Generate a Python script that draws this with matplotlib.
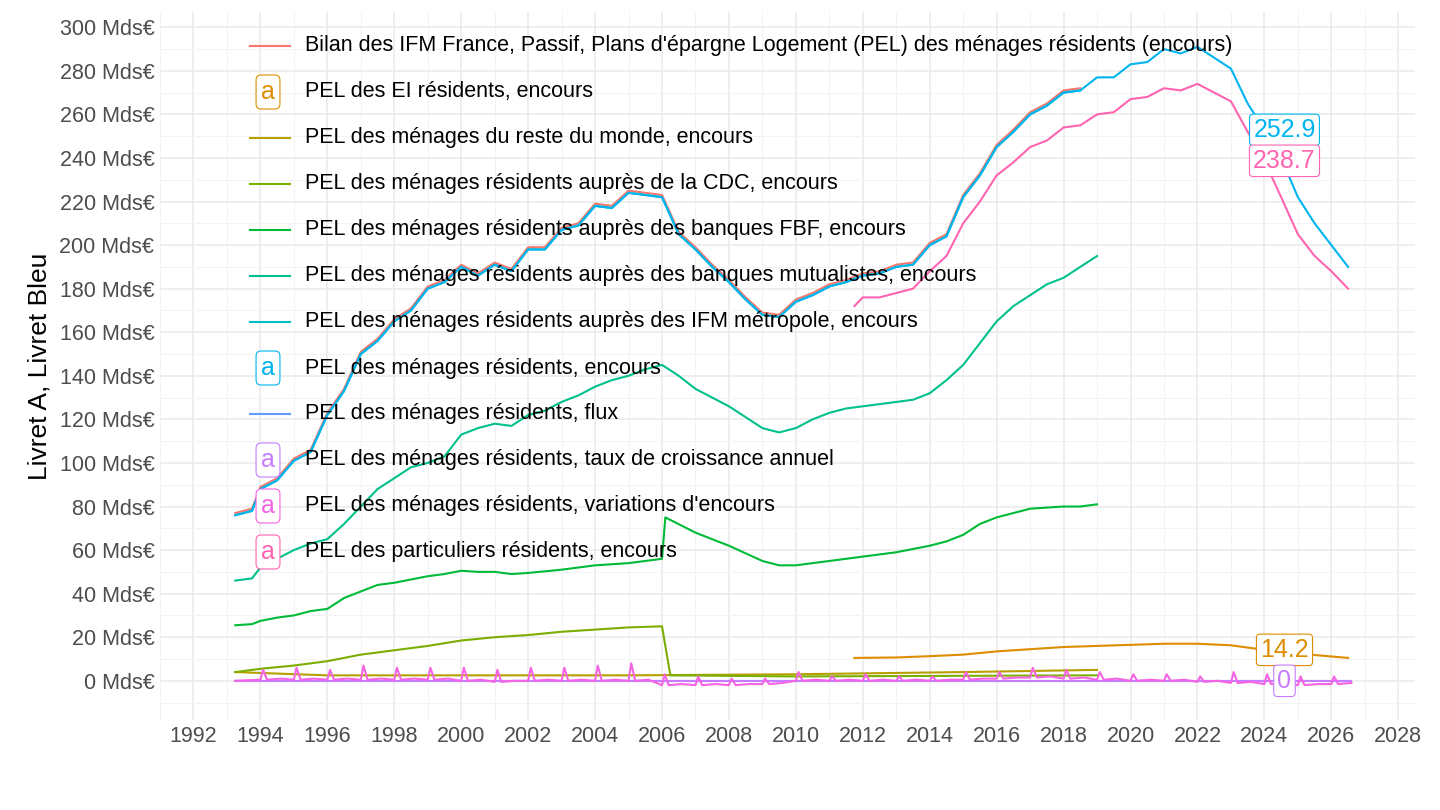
import numpy as np
import matplotlib
matplotlib.use('Agg')
import matplotlib.pyplot as plt

plt.rcParams['font.family'] = ['Liberation Sans', 'DejaVu Sans']

# PEL des ménages résidents, encours (and IFM / bilan, which overlap it)
men_x = [1993.25, 1993.75, 1994.0, 1994.5, 1995.0, 1995.5, 1996.0, 1996.5, 1997.0, 1997.5, 1998.0, 1998.5, 1999.0, 1999.5,
         2000.0, 2000.5, 2001.0, 2001.5, 2002.0, 2002.5, 2003.0, 2003.5, 2004.0, 2004.5, 2005.0, 2005.5, 2006.0, 2006.5,
         2007.0, 2007.5, 2008.0, 2008.5, 2009.0, 2009.5, 2010.0, 2010.5, 2011.0, 2011.5, 2012.0, 2012.5, 2013.0, 2013.5,
         2014.0, 2014.5, 2015.0, 2015.5, 2016.0, 2016.5, 2017.0, 2017.5, 2018.0, 2018.5, 2019.0, 2019.5, 2020.0, 2020.5,
         2021.0, 2021.5, 2022.0, 2022.5, 2023.0, 2023.5, 2024.0, 2024.5, 2025.0, 2025.5, 2026.0, 2026.5]
men_y = [76, 78, 88, 92, 101, 105, 122, 133, 150, 156, 165, 170, 180, 183,
         190, 186, 191, 188, 198, 198, 207, 209, 218, 217, 224, 223, 222, 205,
         198, 190, 183, 175, 168, 167, 174, 177, 181, 183, 186, 187, 190, 191,
         200, 204, 222, 232, 245, 252, 260, 264, 270, 271, 277, 277, 283, 284,
         290, 288, 291, 286, 281, 265, 253, 240, 222, 210, 200, 190]

# PEL des particuliers résidents, encours
part_x = [2011.75, 2012.0, 2012.5, 2013.0, 2013.5, 2014.0, 2014.5, 2015.0, 2015.5, 2016.0, 2016.5, 2017.0, 2017.5,
          2018.0, 2018.5, 2019.0, 2019.5, 2020.0, 2020.5, 2021.0, 2021.5, 2022.0, 2022.5, 2023.0, 2023.5, 2024.0,
          2024.5, 2025.0, 2025.5, 2026.0, 2026.5]
part_y = [172, 176, 176, 178, 180, 188, 195, 210, 220, 232, 238, 245, 248, 254, 255, 260, 261, 267, 268, 272, 271,
          274, 270, 266, 252, 238.7, 222, 205, 195, 188, 180]

# PEL des EI résidents, encours
ei_x = [2011.75, 2013.0, 2014.0, 2015.0, 2016.0, 2017.0, 2018.0, 2019.0, 2020.0, 2021.0, 2022.0, 2023.0, 2024.0, 2025.0, 2026.5]
ei_y = [10.5, 10.7, 11.3, 12.0, 13.5, 14.5, 15.5, 16.0, 16.5, 17.0, 17.0, 16.3, 14.2, 12.5, 10.5]

# PEL des ménages du reste du monde, encours
rdm_x = [1993.25, 1996.0, 2000.0, 2005.0, 2010.0, 2015.0, 2019.0]
rdm_y = [4.0, 2.5, 2.5, 2.5, 3.0, 4.0, 5.0]

# CDC
cdc_x = [1993.25, 1994.0, 1995.0, 1996.0, 1997.0, 1998.0, 1999.0, 2000.0, 2001.0, 2002.0, 2003.0, 2004.0, 2005.0, 2006.0, 2006.25, 2010.0, 2019.0]
cdc_y = [4.0, 5.5, 7.0, 9.0, 12.0, 14.0, 16.0, 18.5, 20.0, 21.0, 22.5, 23.5, 24.5, 25.0, 2.5, 2.0, 2.5]

# banques FBF
fbf_x = [1993.25, 1993.75, 1994.0, 1994.5, 1995.0, 1995.5, 1996.0, 1996.5, 1997.0, 1997.5, 1998.0, 1998.5, 1999.0, 1999.5,
         2000.0, 2000.5, 2001.0, 2001.5, 2002.0, 2003.0, 2004.0, 2005.0, 2006.0, 2006.1, 2007.0, 2008.0, 2009.0, 2009.5,
         2010.0, 2011.0, 2012.0, 2013.0, 2014.0, 2014.5, 2015.0, 2015.5, 2016.0, 2017.0, 2018.0, 2018.5, 2019.0]
fbf_y = [25.5, 26, 27.5, 29, 30, 32, 33, 38, 41, 44, 45, 46.5, 48, 49,
         50.5, 50, 50, 49, 49.5, 51, 53, 54, 56, 75, 68, 62, 55, 53,
         53, 55, 57, 59, 62, 64, 67, 72, 75, 79, 80, 80, 81]

# banques mutualistes
mut_x = [1993.25, 1993.75, 1994.0, 1994.5, 1995.0, 1995.5, 1996.0, 1996.5, 1997.0, 1997.5, 1998.0, 1998.5, 1999.0, 1999.5,
         2000.0, 2000.5, 2001.0, 2001.5, 2002.0, 2002.5, 2003.0, 2003.5, 2004.0, 2004.5, 2005.0, 2005.5, 2006.0, 2006.5,
         2007.0, 2007.5, 2008.0, 2008.5, 2009.0, 2009.5, 2010.0, 2010.5, 2011.0, 2011.5, 2012.0, 2012.5, 2013.0, 2013.5,
         2014.0, 2014.5, 2015.0, 2015.5, 2016.0, 2016.5, 2017.0, 2017.5, 2018.0, 2018.5, 2019.0]
mut_y = [46, 47, 52, 56, 60, 63, 65, 72, 80, 88, 93, 98, 100, 103,
         113, 116, 118, 117, 122, 124, 128, 131, 135, 138, 140, 143, 145, 140,
         134, 130, 126, 121, 116, 114, 116, 120, 123, 125, 126, 127, 128, 129,
         132, 138, 145, 155, 165, 172, 177, 182, 185, 190, 195]

# variations d'encours: spike each January, otherwise near zero
var_years = list(range(1994, 2027))
var_spike = [5, 6, 5, 7, 6, 6, 6, 5, 6, 6, 7, 8, 3, 2, 1, 1, 4, 2, 3, 2, 2, 4, 4, 6, 5, 4, 3, 3, 2, 4, 3, 2, 2]
var_base = [0.5, 0.5, 0.5, 0.5, 0.5, 0.5, 0, -0.5, 0, 0, 0, 0, -2, -2, -2, -1.5, 0, 0, 0, 0, 0, 0.5, 1, 1.5,
            1, 0.5, 0, 0, -0.5, -1, -1.5, -2, -1.5]

colors = ['#F8766D', '#DE8C00', '#B79F00', '#7CAE00', '#00BA38', '#00C08B',
          '#00BFC4', '#00B4F0', '#619CFF', '#C77CFF', '#F564E3', '#FF64B0']
labels = ["Bilan des IFM France, Passif, Plans d'épargne Logement (PEL) des ménages résidents (encours)",
          "PEL des EI résidents, encours",
          "PEL des ménages du reste du monde, encours",
          "PEL des ménages résidents auprès de la CDC, encours",
          "PEL des ménages résidents auprès des banques FBF, encours",
          "PEL des ménages résidents auprès des banques mutualistes, encours",
          "PEL des ménages résidents auprès des IFM métropole, encours",
          "PEL des ménages résidents, encours",
          "PEL des ménages résidents, flux",
          "PEL des ménages résidents, taux de croissance annuel",
          "PEL des ménages résidents, variations d'encours",
          "PEL des particuliers résidents, encours"]
boxed = [1, 7, 9, 10, 11]

fig = plt.figure(figsize=(14.4, 8.1), dpi=100)
ax = fig.add_axes([160 / 1440, 90 / 810, 1255 / 1440, 708 / 810])

n_bilan = men_x.index(2018.5) + 1
ax.plot(men_x[:n_bilan], [v + 1 for v in men_y[:n_bilan]], color=colors[0], lw=1.5)
ax.plot(ei_x, ei_y, color=colors[1], lw=1.5)
ax.plot(rdm_x, rdm_y, color=colors[2], lw=1.5)
ax.plot(cdc_x, cdc_y, color=colors[3], lw=1.5)
ax.plot(fbf_x, fbf_y, color=colors[4], lw=1.5)
ax.plot(mut_x, mut_y, color=colors[5], lw=1.5)
ax.plot(men_x[:n_bilan], men_y[:n_bilan], color=colors[6], lw=1.5)
ax.plot(men_x, men_y, color=colors[7], lw=1.5)
ax.plot(part_x, part_y, color=colors[11], lw=1.5)

vx, vy = [1993.25], [0]
for yr, s, b in zip(var_years, var_spike, var_base):
    vx += [yr, yr + 0.08, yr + 0.2, yr + 0.6]
    vy += [b, s, b, b + 0.5]
ax.plot(vx, [0] * len(vx), color=colors[8], lw=1.5)
ax.plot(vx, [0] * len(vx), color=colors[9], lw=1.5)
ax.plot(vx, vy, color=colors[10], lw=1.5)

# end labels
for val, c, ypos in [(252.9, colors[7], 252.9), (238.7, colors[11], 238.7), (14.2, colors[1], 14.2), (0, colors[9], 0)]:
    ax.text(2024.6, ypos, f'{val:g}', color=c, fontsize=18, ha='center', va='center',
            bbox=dict(boxstyle='round,pad=0.15', fc='white', ec=c, lw=0.8))

ax.set_xlim(1991.5, 2028.5)
ax.set_ylim(-18, 307)
ax.set_xticks(range(1992, 2029, 2))
ax.set_xticks(range(1991, 2029, 1), minor=True)
ax.set_yticks(range(0, 301, 20))
ax.set_yticks(range(-10, 301, 10), minor=True)
ax.set_yticklabels([f'{v} Mds€' for v in range(0, 301, 20)])
ax.grid(which='major', color='#EBEBEB', lw=1.2)
ax.grid(which='minor', color='#F3F3F3', lw=0.7)
ax.set_axisbelow(True)
for s in ax.spines.values():
    s.set_visible(False)
ax.tick_params(which='both', length=0, labelsize=15.5, labelcolor='#4D4D4D', pad=4)
ax.set_ylabel('Livret A, Livret Bleu', fontsize=19, labelpad=6)

# legend drawn inside the panel
for i, (lab, c) in enumerate(zip(labels, colors)):
    py = 46 + 46 * i
    fy = 1 - py / 810
    if i in boxed:
        fig.text(268 / 1440, fy, 'a', color=c, fontsize=18, ha='center', va='center',
                 bbox=dict(boxstyle='round,pad=0.2', fc='white', ec=c, lw=0.8))
    else:
        fig.add_artist(plt.Line2D([250 / 1440, 290 / 1440], [fy, fy], color=c, lw=1.5))
    fig.text(305 / 1440, fy, lab, fontsize=15.5, va='center')

fig.savefig('out.png', dpi=100)
